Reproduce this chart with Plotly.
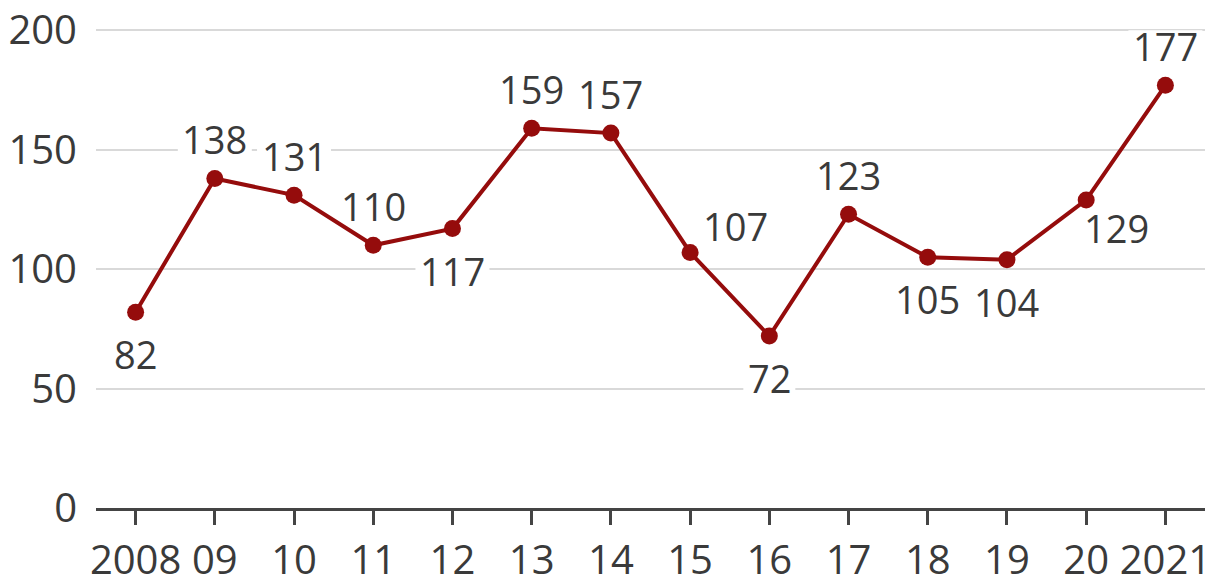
import plotly.graph_objects as go

years = ["2008", "09", "10", "11", "12", "13", "14", "15", "16", "17", "18", "19", "20", "2021"]
values = [82, 138, 131, 110, 117, 159, 157, 107, 72, 123, 105, 104, 129, 177]
label_pos = ["below", "above", "above", "above", "below", "above", "above", "above_right",
             "below", "above", "below", "below", "below_right", "above"]
y_ticks = [0, 50, 100, 150, 200]

TEXT = "#3a3a3a"
RED = "#950c0c"
FONT = "Open Sans"

x = list(range(len(years)))

fig = go.Figure()
fig.add_trace(go.Scatter(
    x=x, y=values, mode="lines+markers",
    line=dict(color=RED, width=4),
    marker=dict(color=RED, size=17),
    cliponaxis=False, hoverinfo="skip", showlegend=False,
))

shifts = {
    "above": (0, 39),
    "below": (0, -42),
    "above_right": (45, 26),
    "below_right": (30, -28),
}
for xi, v, p in zip(x, values, label_pos):
    dx, dy = shifts[p]
    w = 22 * len(str(v)) / 2 + 4
    fig.add_shape(
        type="rect", layer="between",
        xref="x", yref="y", xsizemode="pixel", ysizemode="pixel",
        xanchor=xi, yanchor=v,
        x0=dx - w, x1=dx + w, y0=dy - 16, y1=dy + 16,
        fillcolor="white", line=dict(width=0),
    )
    fig.add_annotation(
        x=xi, y=v, text=str(v), showarrow=False,
        xshift=dx, yshift=dy, xanchor="center", yanchor="middle",
        font=dict(family=FONT, size=38, color=TEXT),
    )

fig.update_xaxes(
    range=[-0.5, len(years) - 0.5],
    tickmode="array", tickvals=x, ticktext=years,
    showgrid=False, zeroline=False,
    showline=True, linecolor="#444444", linewidth=3,
    ticks="outside", ticklen=14, tickwidth=3, tickcolor="#444444",
    ticklabelstandoff=1,
    tickfont=dict(family=FONT, size=40, color=TEXT),
    automargin=False, fixedrange=True,
)
fig.update_yaxes(
    range=[0, 201],
    tickmode="array", tickvals=y_ticks, ticktext=[str(t) for t in y_ticks],
    showgrid=True, gridcolor="#d9d9d9", gridwidth=1.5,
    zeroline=False, showline=False, ticks="",
    ticklabelstandoff=18,
    tickfont=dict(family=FONT, size=40, color=TEXT),
    automargin=False, fixedrange=True,
)
fig.update_layout(
    width=1219, height=579,
    margin=dict(l=96, r=14, t=28, b=71),
    paper_bgcolor="white", plot_bgcolor="white",
)
fig.write_html(
    "out.html",
    config={"displayModeBar": False},
    post_script="document.body.style.margin='0';document.body.style.overflow='hidden';",
)
